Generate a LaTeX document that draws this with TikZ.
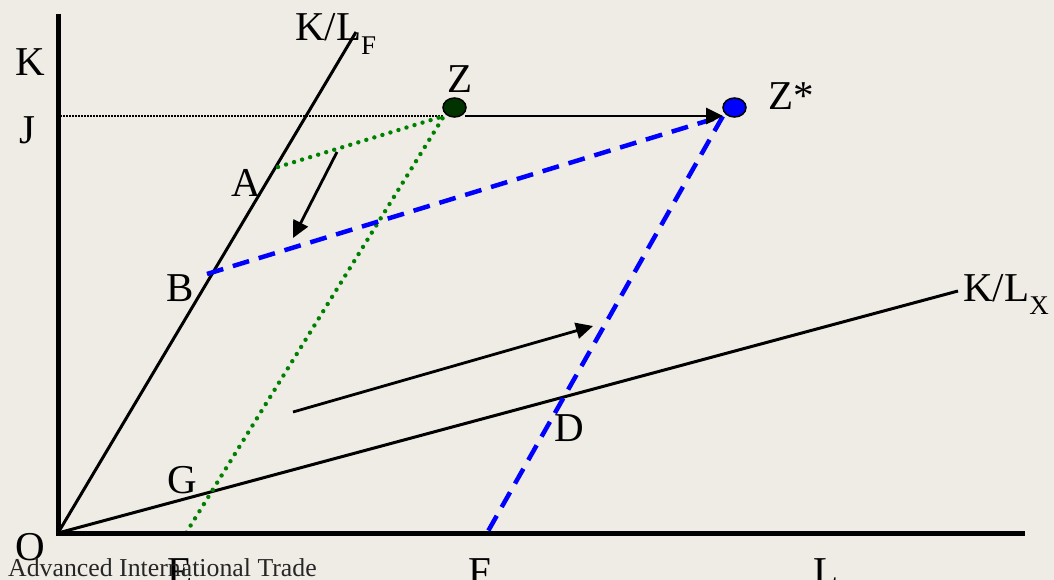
\documentclass[tikz,border=0pt]{standalone}
\usepackage{fontspec}
\setmainfont{Liberation Serif}
\usetikzlibrary{arrows.meta,shapes.geometric}
\definecolor{bg}{HTML}{EEECE4}
\definecolor{zgreen}{HTML}{003300}
\definecolor{dotgreen}{HTML}{008000}
\tikzset{
  lbl/.style={inner sep=0pt, font=\fontsize{41}{41}\selectfont},
  axisline/.style={line width=5pt},
  ray/.style={line width=3pt},
  greendot/.style={draw=dotgreen, line width=4.4pt, line cap=round, dash pattern=on 0pt off 8.4pt},
  bluedash/.style={draw=blue, line width=4.5pt, dash pattern=on 17pt off 10pt},
  shift arrow/.style={line width=2.8pt, -{Triangle[length=17pt,width=16pt]}},
  dot/.style={ellipse, draw=black, line width=1.5pt, minimum width=23pt, minimum height=19pt, inner sep=0pt},
}
\begin{document}
\begin{tikzpicture}[x=1pt,y=-1pt]
\fill[bg] (0,0) rectangle (1054,580);
\useasboundingbox (0,0) rectangle (1054,580);
% points
\coordinate (O) at (58,533);
\coordinate (Ktop) at (58,14);
\coordinate (Lend) at (1025,533);
\coordinate (LFend) at (356,32);
\coordinate (LXend) at (958,291);
\coordinate (Jpt) at (60,116);
\coordinate (Zc) at (444,116);
\coordinate (Zsc) at (723,116);
\coordinate (Apt) at (278,167);
\coordinate (Bpt) at (207,274);
\coordinate (Ept) at (186,533);
\coordinate (Fpt) at (487,533);
\coordinate (a1s) at (337,152);
\coordinate (a1e) at (293,238);
\coordinate (a2s) at (293,412);
\coordinate (a2e) at (593,326);
% dotted J line
\draw[line width=1.3pt, dash pattern=on 1.5pt off 1.5pt] (Jpt) -- (Zc);
% rays
\draw[ray] (O) -- (LFend);
\draw[ray] (O) -- (LXend);
% green dotted
\draw[greendot] (Apt) -- (Zc) -- (Ept);
% blue dashed
\draw[bluedash] (Bpt) -- (Zsc) -- (Fpt);
% axes
\draw[axisline] (Ktop) -- (O) -- (Lend);
% circles
\node[dot, fill=zgreen] (Z) at (454.5,107.5) {};
\node[dot, fill=blue] (Zs) at (734.5,107.5) {};
% arrows
\draw[shift arrow] (Z.south east |- Zc) ++(2,0) coordinate (zs) -- (Zsc);
\draw[shift arrow] (a1s) -- (a1e);
\draw[shift arrow] (a2s) -- (a2e);
% labels
\node[lbl] (lK) at (30,62) {K};
\node[lbl] (lJ) at (27,130) {J};
\node[lbl, anchor=west] (lKLF) at (295,34) {K/L\raisebox{-14pt}{\fontsize{27}{27}\selectfont F}};
\node[lbl] (lZ) at (460,79) {Z};
\node[lbl, anchor=west] (lZs) at (768,96) {Z*};
\node[lbl] (lA) at (246,183) {A};
\node[lbl] (lB) at (180,288) {B};
\node[lbl, anchor=west] (lKLX) at (963,294) {K/L\raisebox{-13pt}{\fontsize{27}{27}\selectfont X}};
\node[lbl] (lD) at (569,428) {D};
\node[lbl] (lG) at (182,480) {G};
\node[lbl] (lO) at (30,547) {O};
\node[lbl] (lE) at (180,572) {E};
\node[lbl] (lF) at (480,572) {F};
\node[lbl] (lL) at (826,572) {L};
\node[inner sep=0pt, anchor=west, text=black!85, font=\fontsize{25.8}{25.8}\selectfont] (foot) at (8,568) {Advanced International Trade};
\end{tikzpicture}
\end{document}
